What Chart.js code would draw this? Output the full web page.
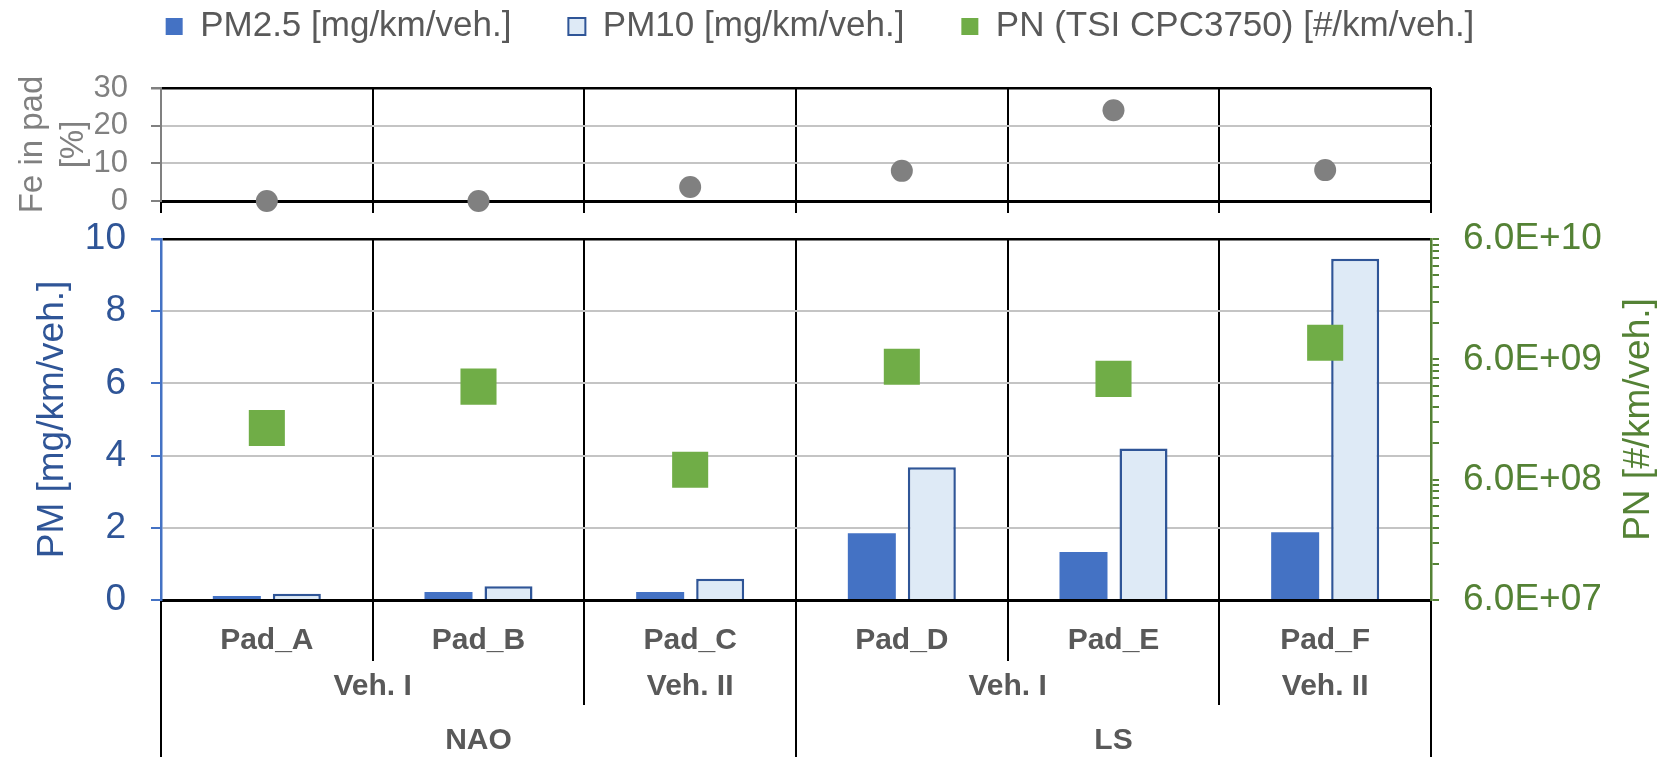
<!DOCTYPE html>
<html lang="en">
<head>
<meta charset="UTF-8">
<title>Brake pad emissions: PM, PN and Fe content</title>
<script src="https://cdn.jsdelivr.net/npm/chart.js"></script>
<style>
  body { margin: 0; background: #fff; overflow: hidden; }
  #wrap { position: relative; width: 1666px; height: 757px; overflow: hidden; }
  canvas { position: absolute; left: 0; }
  /* the Fe panel canvas starts above the page so the legend sits tight to the top */
  #feChart { top: -48px; }
  #pmChart { top: 205px; }
</style>
</head>
<body>
<div id="wrap">
  <canvas id="feChart" width="1666" height="273"></canvas>
  <canvas id="pmChart" width="1666" height="552"></canvas>
</div>

<script>
// categories (three label rows under the x axis)
const pads = ['Pad_A', 'Pad_B', 'Pad_C', 'Pad_D', 'Pad_E', 'Pad_F'];
const vehicles = ['Veh. I', 'Veh. II', 'Veh. I', 'Veh. II'];
const vehiclePadCounts = [2, 1, 2, 1];
const padTypes = ['NAO', 'LS'];
const padTypeCounts = [3, 3];

// series
const feInPad = [0, 0, 3.7, 8.0, 24.1, 8.2];                  // %
const pm25 = [0.11, 0.22, 0.22, 1.85, 1.33, 1.88];            // mg/km/veh.
const pm10 = [0.17, 0.38, 0.59, 3.68, 4.20, 9.45];            // mg/km/veh.
const pn = [1.61e9, 3.56e9, 7.25e8, 5.2e9, 4.13e9, 8.23e9];   // #/km/veh.

// axis ticks
const feTicks = [0, 10, 20, 30];
const pmTicks = [0, 2, 4, 6, 8, 10];
const pnDecades = [6e7, 6e8, 6e9, 6e10];

const TEXT = '#595959';
const GRID = '#c4c4c4';
const FE_GREY = '#808080';
const PM25_BLUE = '#4472C4';
const PM10_FILL = '#DEEAF6';
const PM10_EDGE = '#2F5597';
const PM_TEXT = '#2F5597';
const PN_GREEN = '#70AD47';
const PN_AXIS = '#548235';

Chart.defaults.font.family = '"Liberation Sans", Arial, sans-serif';

const legendItems = [
    { text: 'PM2.5 [mg/km/veh.]', fillStyle: PM25_BLUE, strokeStyle: PM25_BLUE, lineWidth: 0, fontColor: TEXT, hidden: false },
    { text: 'PM10 [mg/km/veh.]', fillStyle: PM10_FILL, strokeStyle: PM10_EDGE, lineWidth: 2, fontColor: TEXT, hidden: false },
    { text: 'PN (TSI CPC3750) [#/km/veh.]', fillStyle: PN_GREEN, strokeStyle: PN_GREEN, lineWidth: 0, fontColor: TEXT, hidden: false }
];

// fixed axis sizes; also drop the label overhang so the plot edges stay put
function fixWidth(w) {
    return s => { s.width = w; s.paddingTop = 0; s.paddingBottom = 0; };
}
function fixHeight(h) {
    return s => { s.height = h; s.paddingLeft = 0; s.paddingRight = 0; };
}

// edges and centres of a grouped label row, in category-index units
function groupRow(names, counts) {
    const edges = [-0.5];
    const labels = new Map();
    let start = -0.5;
    names.forEach((name, i) => {
        labels.set(start + counts[i] / 2, name);
        start += counts[i];
        edges.push(start);
    });
    return { edges, labels };
}

// a linear x axis that only draws one grouped label row with its separators
function groupAxis(row, height, labelPad) {
    return {
        type: 'linear',
        axis: 'x',
        position: 'bottom',
        min: -0.5,
        max: pads.length - 0.5,
        offset: false,
        border: { display: false },
        grid: {
            offset: false,
            drawOnChartArea: false,
            tickLength: height,
            lineWidth: 2,
            color: c => (c.tick && row.edges.includes(c.tick.value)) ? '#000' : 'rgba(0,0,0,0)'
        },
        ticks: {
            autoSkip: false,
            maxRotation: 0,
            padding: labelPad,
            color: TEXT,
            font: { size: 30, weight: 'bold' },
            callback: v => row.labels.get(v) || ''
        },
        afterBuildTicks: s => {
            s.ticks = [...row.edges, ...row.labels.keys()]
                .sort((a, b) => a - b)
                .map(v => ({ value: v }));
        },
        afterFit: fixHeight(height)
    };
}

// 6.0E+09 style labels
function sci(v) {
    const [m, e] = v.toExponential(1).split('e');
    const n = Number(e);
    return m + 'E' + (n < 0 ? '-' : '+') + String(Math.abs(n)).padStart(2, '0');
}

// right-hand axis title, reading bottom to top like the left one
const pnTitle = {
    id: 'pnTitle',
    afterDraw(chart) {
        const s = chart.scales.yPN;
        const ctx = chart.ctx;
        ctx.save();
        ctx.translate(s.right - 27, (s.top + s.bottom) / 2);
        ctx.rotate(-Math.PI / 2);
        ctx.font = '37px "Liberation Sans", Arial, sans-serif';
        ctx.fillStyle = PN_AXIS;
        ctx.textAlign = 'center';
        ctx.textBaseline = 'middle';
        ctx.fillText('PN [#/km/veh.]', 0, 0);
        ctx.restore();
    }
};

// top panel: Fe share in the pad, plus the legend
new Chart(document.getElementById('feChart'), {
    type: 'line',
    data: {
        labels: pads,
        datasets: [{
            label: 'Fe in pad [%]',
            data: feInPad,
            xAxisID: 'x',
            yAxisID: 'yFe',
            showLine: false,
            pointRadius: 11,
            pointBackgroundColor: FE_GREY,
            pointBorderWidth: 0,
            clip: false
        }]
    },
    options: {
        responsive: false,
        animation: false,
        events: [],
        layout: { padding: { right: 26 } },
        plugins: {
            tooltip: { enabled: false },
            legend: {
                position: 'top',
                labels: {
                    boxWidth: 17,
                    boxHeight: 17,
                    padding: 57,
                    color: TEXT,
                    font: { size: 35 },
                    generateLabels: () => legendItems
                }
            }
        },
        scales: {
            x: {
                type: 'category',
                position: 'bottom',
                offset: true,
                border: { color: '#000', width: 3 },
                grid: { color: '#000', lineWidth: 2, tickLength: 12, offset: true },
                ticks: { display: false },
                afterFit: fixHeight(24)
            },
            xTop: {
                type: 'category',
                position: 'top',
                offset: true,
                ticks: { display: false },
                grid: { display: false },
                border: { display: false },
                afterFit: fixHeight(34)
            },
            yFe: {
                position: 'left',
                min: feTicks[0],
                max: feTicks[feTicks.length - 1],
                ticks: {
                    stepSize: feTicks[1] - feTicks[0],
                    autoSkip: false,
                    color: FE_GREY,
                    font: { size: 31 },
                    padding: 23
                },
                grid: {
                    color: c => c.tick.value === 30 ? '#000' : (c.tick.value === 0 ? 'rgba(0,0,0,0)' : GRID),
                    lineWidth: c => c.tick.value === 30 ? 2.5 : 2,
                    tickColor: FE_GREY,
                    tickLength: 10
                },
                border: { color: FE_GREY, width: 2 },
                title: {
                    display: true,
                    text: ['Fe in pad', '[%]'],
                    color: FE_GREY,
                    font: { size: 33, lineHeight: 1.25 },
                    padding: { top: 12 }
                },
                afterFit: fixWidth(161)
            },
            ySpacer: {
                position: 'right',
                ticks: { display: false },
                grid: { display: false },
                border: { display: false },
                afterFit: fixWidth(209)
            }
        }
    }
});

// bottom panel: PM bars on the left axis, PN on a log right axis
new Chart(document.getElementById('pmChart'), {
    type: 'bar',
    data: {
        labels: pads,
        datasets: [
            {
                label: 'PM2.5 [mg/km/veh.]',
                data: pm25,
                backgroundColor: PM25_BLUE,
                xAxisID: 'x',
                yAxisID: 'yPM',
                categoryPercentage: 0.567,
                barPercentage: 0.8,
                order: 1
            },
            {
                label: 'PM10 [mg/km/veh.]',
                data: pm10,
                backgroundColor: PM10_FILL,
                borderColor: PM10_EDGE,
                borderWidth: 2.5,
                xAxisID: 'x',
                yAxisID: 'yPM',
                categoryPercentage: 0.567,
                barPercentage: 0.8,
                order: 1
            },
            {
                type: 'line',
                label: 'PN (TSI CPC3750) [#/km/veh.]',
                data: pn,
                xAxisID: 'x',
                yAxisID: 'yPN',
                showLine: false,
                pointStyle: 'rect',
                pointRadius: 25.5,
                pointBackgroundColor: PN_GREEN,
                pointBorderWidth: 0,
                clip: false,
                order: 0
            }
        ]
    },
    options: {
        responsive: false,
        animation: false,
        events: [],
        layout: { padding: { top: 34 } },
        plugins: {
            legend: { display: false },
            tooltip: { enabled: false }
        },
        scales: {
            x: {
                type: 'category',
                position: 'bottom',
                offset: true,
                border: { color: '#000', width: 3 },
                grid: { color: '#000', lineWidth: 2, tickLength: 61, offset: true },
                ticks: {
                    autoSkip: false,
                    maxRotation: 0,
                    padding: -38,
                    color: TEXT,
                    font: { size: 30, weight: 'bold' }
                },
                afterFit: fixHeight(61)
            },
            xVeh: groupAxis(groupRow(vehicles, vehiclePadCounts), 44, -36),
            xType: groupAxis(groupRow(padTypes, padTypeCounts), 52, -34),
            yPM: {
                position: 'left',
                min: pmTicks[0],
                max: pmTicks[pmTicks.length - 1],
                ticks: {
                    stepSize: pmTicks[1] - pmTicks[0],
                    autoSkip: false,
                    color: PM_TEXT,
                    font: { size: 37 },
                    padding: 25
                },
                grid: {
                    color: c => c.tick.value === 10 ? '#000' : (c.tick.value === 0 ? 'rgba(0,0,0,0)' : GRID),
                    lineWidth: c => c.tick.value === 10 ? 2.5 : 2,
                    tickColor: PM25_BLUE,
                    tickLength: 10
                },
                border: { color: PM25_BLUE, width: 2.5 },
                title: {
                    display: true,
                    text: 'PM [mg/km/veh.]',
                    color: PM_TEXT,
                    font: { size: 37 },
                    padding: { top: 31 }
                },
                afterFit: fixWidth(161)
            },
            yPN: {
                type: 'logarithmic',
                position: 'right',
                min: pnDecades[0],
                max: pnDecades[pnDecades.length - 1],
                grid: { drawOnChartArea: false, color: PN_AXIS, lineWidth: 2, tickLength: 8 },
                border: { color: PN_AXIS, width: 2.5 },
                ticks: {
                    autoSkip: false,
                    color: PN_AXIS,
                    font: { size: 37 },
                    padding: 24,
                    callback: v => pnDecades.includes(v) ? sci(v) : ''
                },
                // decade labels plus 2..9 minor marks in every decade
                afterBuildTicks: s => {
                    const t = [];
                    pnDecades.forEach((d, i) => {
                        t.push({ value: d });
                        if (i < pnDecades.length - 1) {
                            for (let k = 2; k <= 9; k++) t.push({ value: d * k });
                        }
                    });
                    s.ticks = t;
                },
                afterFit: fixWidth(235)
            }
        }
    },
    plugins: [pnTitle]
});
</script>
</body>
</html>
